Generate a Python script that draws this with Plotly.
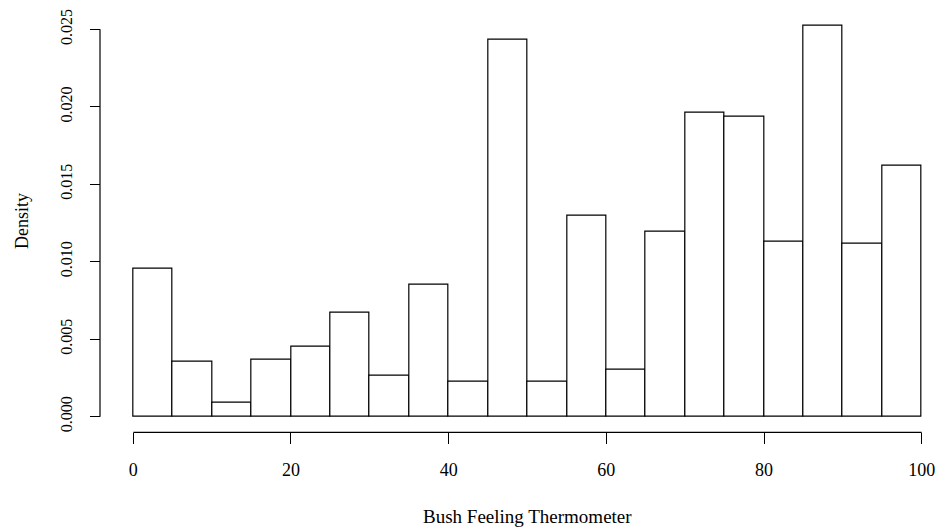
import plotly.graph_objects as go

# ---- data ----
bin_left = [0, 5, 10, 15, 20, 25, 30, 35, 40, 45, 50, 55, 60, 65, 70, 75, 80, 85, 90, 95]
bin_width = 5
density = [0.00955, 0.00355, 0.00090, 0.00368, 0.00450, 0.00673, 0.00263, 0.00848,
           0.00222, 0.02430, 0.00222, 0.01299, 0.00303, 0.01194, 0.01964, 0.01938,
           0.01127, 0.02523, 0.01114, 0.01619]
x_ticks = [0, 20, 40, 60, 80, 100]
y_ticks = [0.000, 0.005, 0.010, 0.015, 0.020, 0.025]
x_title = "Bush Feeling Thermometer"
y_title = "Density"

# ---- layout geometry (pixels) ----
W, H = 940, 529
FONT = "Liberation Serif, Times New Roman, serif"
x0_px, x100_px = 133.3, 921.7      # pixel positions of x=0 and x=100
y0_px, y025_px = 416.7, 29.3       # pixel positions of y=0 and y=0.025
xr = [-1, 101]
yr = [-0.001, 0.026]
xs = (x100_px - x0_px) / 100.0
ys = (y0_px - y025_px) / 0.025
xdom = [(x0_px + xr[0] * xs) / W, (x0_px + xr[1] * xs) / W]
ydom = [(H - (y0_px - yr[0] * ys)) / H, (H - (y0_px - yr[1] * ys)) / H]
xaxis_y_px = 432.3
yaxis_x_px = 100.0

centers = [b + bin_width / 2 for b in bin_left]

fig = go.Figure()
fig.add_trace(go.Bar(
    x=centers, y=density, width=[bin_width] * len(centers),
    marker=dict(color="white", line=dict(color="black", width=1.2)),
    showlegend=False, hoverinfo="x+y",
))

fig.update_layout(
    width=W, height=H,
    margin=dict(l=0, r=0, t=0, b=0),
    paper_bgcolor="white", plot_bgcolor="white",
    template="none",
    bargap=0,
    font=dict(family=FONT, color="black", size=18),
    xaxis=dict(
        domain=xdom, range=xr, anchor="free", position=(H - xaxis_y_px) / H,
        tickmode="array", tickvals=x_ticks, ticktext=[str(v) for v in x_ticks],
        ticks="outside", ticklen=11, tickwidth=1.2, tickcolor="black",
        showline=False, showgrid=False, zeroline=False,
        tickfont=dict(family=FONT, size=18, color="black"),
        ticklabelstandoff=10,
    ),
    yaxis=dict(
        domain=ydom, range=yr, anchor="free", position=yaxis_x_px / W,
        tickmode="array", tickvals=y_ticks, ticktext=["%.3f" % v for v in y_ticks],
        ticks="outside", ticklen=10, tickwidth=1.2, tickcolor="black",
        tickangle=-90,
        showline=False, showgrid=False, zeroline=False,
        tickfont=dict(family=FONT, size=16, color="black"),
        ticklabelstandoff=12,
    ),
    shapes=[
        dict(type="line", xref="x", yref="paper", x0=x_ticks[0], x1=x_ticks[-1],
             y0=(H - xaxis_y_px) / H, y1=(H - xaxis_y_px) / H,
             line=dict(color="black", width=1.2)),
        dict(type="line", xref="paper", yref="y", x0=yaxis_x_px / W, x1=yaxis_x_px / W,
             y0=y_ticks[0], y1=y_ticks[-1],
             line=dict(color="black", width=1.2)),
    ],
    annotations=[
        dict(text=x_title, xref="paper", yref="paper",
             x=(x0_px + 50 * xs) / W, y=(H - 516) / H,
             xanchor="center", yanchor="middle", showarrow=False,
             font=dict(family=FONT, size=19, color="black")),
        dict(text=y_title, xref="paper", yref="paper",
             x=22 / W, y=(H - 221) / H, textangle=-90,
             xanchor="center", yanchor="middle", showarrow=False,
             font=dict(family=FONT, size=18, color="black")),
    ],
)

fig.write_html("out.html")
